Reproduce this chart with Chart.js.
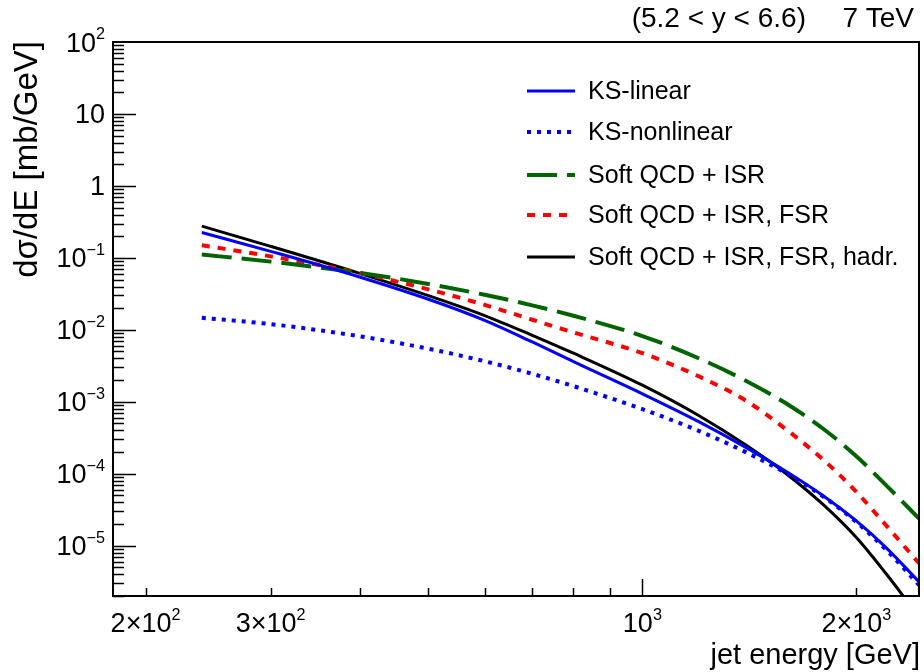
<!DOCTYPE html>
<html>
<head>
<meta charset="utf-8">
<script src="https://cdn.jsdelivr.net/npm/chart.js@4.4.1/dist/chart.umd.min.js"></script>
<style>
  html, body { margin: 0; padding: 0; background: #fff; }
  canvas { display: block; }
</style>
</head>
<body>
<canvas id="jetChart" width="924" height="672"></canvas>
<script>
// jet energy [GeV]
const energy = [240, 300, 400, 500, 600, 700, 800, 1000, 1200, 1400, 1600, 1800, 2000, 2200, 2450];

// dsigma/dE [mb/GeV]
const ksLinear    = [0.2256, 0.1233, 0.0543, 0.0266, 0.01355, 0.00678, 0.00361, 0.00129, 5.3e-4, 2.31e-4, 1.05e-4, 4.88e-5, 2.21e-5, 9.5e-6, 3.15e-6];
const ksNonlinear = [0.0147, 0.0120, 0.00815, 0.00546, 0.00366, 0.00245, 0.00165, 7.9e-4, 3.95e-4, 1.98e-4, 9.9e-5, 4.75e-5, 2.13e-5, 8.9e-6, 2.84e-6];
const softIsr     = [0.111, 0.0887, 0.0619, 0.0434, 0.0307, 0.0219, 0.01567, 0.0082, 0.00403, 0.00195, 9.25e-4, 4.15e-4, 1.75e-4, 7.0e-5, 2.39e-5];
const softIsrFsr  = [0.150, 0.105, 0.0617, 0.0365, 0.0222, 0.0138, 0.0092, 0.00474, 0.00226, 1.03e-3, 4.0e-4, 1.54e-4, 5.6e-5, 1.94e-5, 5.7e-6];
const softHadr    = [0.276, 0.1445, 0.061, 0.0299, 0.0158, 0.0084, 0.00473, 0.0017, 6.44e-4, 2.48e-4, 9.7e-5, 3.66e-5, 1.30e-5, 4.14e-6, 1.02e-6];

const seriesLabels = ['KS-linear', 'KS-nonlinear', 'Soft QCD + ISR', 'Soft QCD + ISR, FSR', 'Soft QCD + ISR, FSR, hadr.'];

// tick labels: [value, base, exponent]
const yTickLabels = [[1e2, '10', '2'], [10, '10', ''], [1, '1', ''], [1e-1, '10', '\u22121'], [1e-2, '10', '\u22122'],
                     [1e-3, '10', '\u22123'], [1e-4, '10', '\u22124'], [1e-5, '10', '\u22125']];
const xTickLabels = [[200, '2\u00d710', '2'], [300, '3\u00d710', '2'], [1000, '10', '3'], [2000, '2\u00d710', '3']];
const xMinorTicks = [200, 300, 400, 500, 600, 700, 800, 900, 2000];
const xMajorTicks = [1000];

const FONT = '"Liberation Sans", Arial, Helvetica, sans-serif';

function pts(ys) {
    return energy.map((e, i) => ({ x: e, y: ys[i] }));
}

// base text + raised exponent, aligned as one label
function drawSup(ctx, base, exp, x, y, align, size) {
    const es = size * 0.6;
    ctx.font = size + 'px ' + FONT;
    const bw = ctx.measureText(base).width;
    ctx.font = es + 'px ' + FONT;
    const ew = exp ? ctx.measureText(exp).width : 0;
    const total = bw + ew;
    let x0 = x;
    if (align === 'right') x0 = x - total;
    else if (align === 'center') x0 = x - total / 2;
    ctx.textAlign = 'left';
    ctx.textBaseline = 'alphabetic';
    ctx.font = size + 'px ' + FONT;
    ctx.fillText(base, x0, y);
    if (exp) {
        ctx.font = es + 'px ' + FONT;
        ctx.fillText(exp, x0 + bw, y - size * 0.46);
    }
}

const rootFrame = {
    id: 'rootFrame',
    afterDraw(chart) {
        const ctx = chart.ctx;
        const a = chart.chartArea;
        const xs = chart.scales.x, ys = chart.scales.y;
        ctx.save();
        ctx.strokeStyle = '#000';
        ctx.fillStyle = '#000';
        ctx.lineWidth = 2;
        ctx.strokeRect(a.left, a.top, a.right - a.left, a.bottom - a.top);

        // ticks point inward, ROOT style
        ctx.lineWidth = 1.5;
        ctx.beginPath();
        for (let d = -6; d <= 1; d++) {
            for (let m = 1; m <= 9; m++) {
                const v = m * Math.pow(10, d);
                if (v < ys.min || v > ys.max) continue;
                const py = Math.round(ys.getPixelForValue(v)) + 0.5;
                const len = m === 1 ? 23 : 11;
                ctx.moveTo(a.left, py);
                ctx.lineTo(a.left + len, py);
            }
        }
        xMinorTicks.forEach(v => {
            const px = Math.round(xs.getPixelForValue(v)) + 0.5;
            ctx.moveTo(px, a.bottom);
            ctx.lineTo(px, a.bottom - 8);
        });
        xMajorTicks.forEach(v => {
            const px = Math.round(xs.getPixelForValue(v)) + 0.5;
            ctx.moveTo(px, a.bottom);
            ctx.lineTo(px, a.bottom - 17);
        });
        ctx.stroke();

        yTickLabels.forEach(([v, b, e]) => {
            drawSup(ctx, b, e, 105, ys.getPixelForValue(v) + 9.5, 'right', 27);
        });
        xTickLabels.forEach(([v, b, e]) => {
            drawSup(ctx, b, e, xs.getPixelForValue(v), 632, 'center', 27);
        });

        // axis titles
        ctx.textBaseline = 'alphabetic';
        ctx.textAlign = 'right';
        ctx.font = '29px ' + FONT;
        ctx.fillText('jet energy [GeV]', 920, 664);

        ctx.save();
        ctx.translate(37, 41);
        ctx.rotate(-Math.PI / 2);
        ctx.font = '33px ' + FONT;
        ctx.textAlign = 'right';
        ctx.fillText('d\u03c3/dE [mb/GeV]', 0, 0);
        ctx.restore();

        // title
        ctx.font = '28px ' + FONT;
        ctx.textAlign = 'right';
        ctx.fillText('(5.2 < y < 6.6)', 806, 27);
        ctx.fillText('7 TeV', 914, 27);

        // legend
        const rowY = [91, 132, 175, 215, 257];
        chart.data.datasets.forEach((ds, i) => {
            const y = rowY[i];
            ctx.save();
            ctx.strokeStyle = ds.borderColor;
            ctx.lineWidth = ds.borderWidth;
            ctx.setLineDash(ds.borderDash || []);
            ctx.beginPath();
            ctx.moveTo(527, y);
            ctx.lineTo(575, y);
            ctx.stroke();
            ctx.restore();
            ctx.font = '25px ' + FONT;
            ctx.textAlign = 'left';
            ctx.textBaseline = 'middle';
            ctx.fillStyle = '#000';
            ctx.fillText(ds.label, 588, y + 1);
        });
        ctx.restore();
    }
};

new Chart(document.getElementById('jetChart'), {
    type: 'line',
    data: {
        datasets: [
            { label: seriesLabels[0], data: pts(ksLinear),    borderColor: '#0000ff', borderWidth: 3 },
            { label: seriesLabels[1], data: pts(ksNonlinear), borderColor: '#0000ff', borderWidth: 4, borderDash: [4, 6] },
            { label: seriesLabels[2], data: pts(softIsr),     borderColor: '#006400', borderWidth: 4, borderDash: [30, 10] },
            { label: seriesLabels[3], data: pts(softIsrFsr),  borderColor: '#ff0000', borderWidth: 4, borderDash: [8, 8] },
            { label: seriesLabels[4], data: pts(softHadr),    borderColor: '#000000', borderWidth: 3 }
        ]
    },
    options: {
        responsive: false,
        animation: false,
        devicePixelRatio: 1,
        layout: { padding: { left: 113, top: 42, right: 5, bottom: 76 } },
        elements: {
            point: { radius: 0 },
            line: { cubicInterpolationMode: 'monotone', fill: false }
        },
        scales: {
            x: { type: 'logarithmic', min: 180, max: 2450, display: false },
            y: { type: 'logarithmic', min: 2e-6, max: 100, display: false }
        },
        plugins: {
            legend: { display: false },
            tooltip: { enabled: false }
        }
    },
    plugins: [rootFrame]
});
</script>
</body>
</html>
